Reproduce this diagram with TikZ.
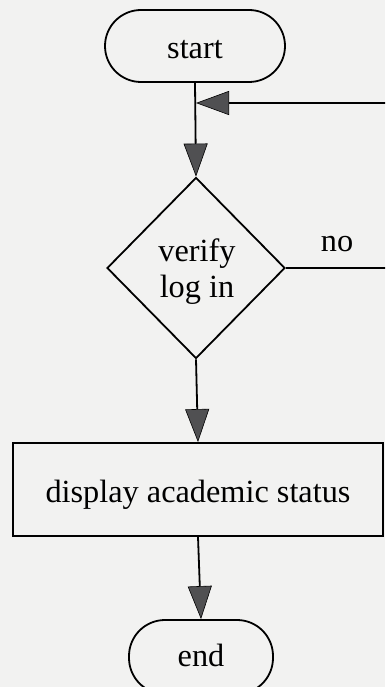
\documentclass[tikz,border=0pt]{standalone}
\usepackage{fontspec}
\setmainfont{Liberation Serif}
\usetikzlibrary{arrows.meta,shapes.geometric}
\definecolor{paper}{RGB}{242,242,241}
\definecolor{tipgray}{RGB}{80,80,82}
\tikzset{
  bigtext/.style={font=\fontsize{32.3}{36}\selectfont},
  oneline/.style={bigtext, text height=26pt, text depth=0pt},
  flow/.style={line width=1.8pt, draw=black},
  arr/.style={flow, -{Triangle[length=33pt,width=24pt,fill=tipgray,line width=0.6pt]}},
  terminal/.style={draw=black, line width=1.8pt, rounded corners=36pt, fill=paper,
    inner sep=0pt, oneline},
  decision/.style={draw=black, line width=1.8pt, diamond, inner sep=0pt, fill=paper,
    minimum width=178pt, minimum height=181pt},
  process/.style={draw=black, line width=1.8pt, rectangle, fill=paper, inner sep=0pt,
    oneline},
  lbl/.style={oneline, inner sep=0pt}
}
\begin{document}
\begin{tikzpicture}[x=1pt,y=-1pt]
  \useasboundingbox (0,0) rectangle (385,687);
  \clip (0,0) rectangle (385,687);
  \fill[paper] (0,0) rectangle (385,687);

  % nodes
  \node[terminal, minimum width=180pt, minimum height=72pt] (start) at (195,46) {start};
  \node[decision] (verify) at (196,268) {};
  \node[bigtext, align=center, inner sep=0pt] (verifytext) at (197,272) {verify\\log in};
  \node[process, minimum width=370pt, minimum height=93pt] (status) at (198,489.5) {display academic status};
  \node[terminal, minimum width=144pt, minimum height=74pt, text height=18pt] (end) at (201,657) {end};
  \node[lbl] (no) at (337,238) {no};

  % loop-back points at the right edge
  \coordinate (merge) at (196,103);
  \coordinate (loopR) at (390,103);
  \coordinate (noR) at (390,268);

  % connectors
  \draw[arr] (start.south) -- (verify.north);
  \draw[arr] (loopR) -- (merge);
  \draw[flow] (verify.east) -- (noR);
  \draw[arr] (verify.south) -- (status.north);
  \draw[arr] (status.south) -- (end.north);
\end{tikzpicture}
\end{document}
